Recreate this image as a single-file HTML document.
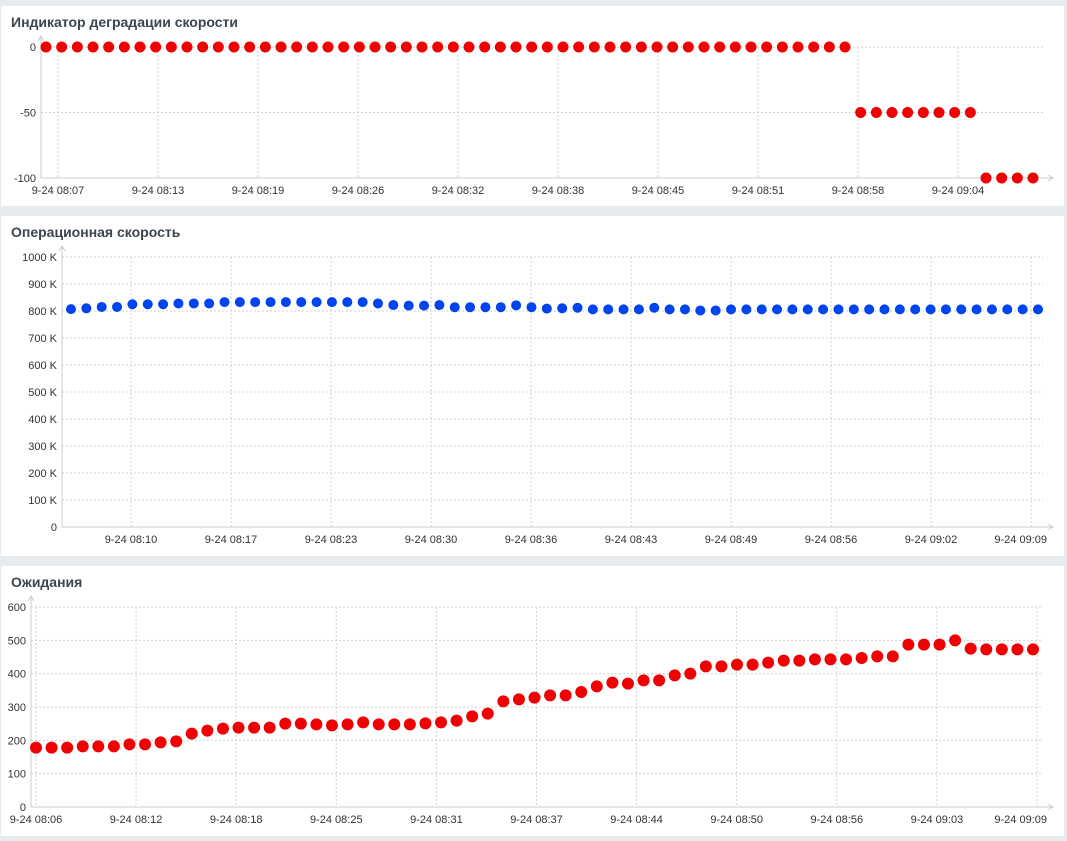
<!DOCTYPE html>
<html><head><meta charset="utf-8"><style>
html,body{margin:0;padding:0;background:#e8ebee;width:1067px;height:841px;overflow:hidden}
svg{display:block;font-family:"Liberation Sans",Arial,sans-serif}
.tick{font-size:11px;fill:#333}
.title{font-size:14px;font-weight:bold;fill:#3c4650}
.grid{stroke:#d0d0d0;stroke-dasharray:2,2;stroke-width:1}
.axis{stroke:#c8ccd0;stroke-width:1;fill:none}
</style></head><body>
<svg id="svg" width="1067" height="841">
<rect x="1" y="6" width="1063" height="200" fill="#fff"/>
<rect x="1" y="216" width="1063" height="340" fill="#fff"/>
<rect x="1" y="566" width="1063" height="270" fill="#fff"/>
<text class="title" x="11" y="27">Индикатор деградации скорости</text>
<text class="title" x="11" y="237">Операционная скорость</text>
<text class="title" x="11" y="587">Ожидания</text>
</svg>
<script>
// Chart 1: degradation indicator
const c1Ticks = ["9-24 08:07","9-24 08:13","9-24 08:19","9-24 08:26","9-24 08:32","9-24 08:38","9-24 08:45","9-24 08:51","9-24 08:58","9-24 09:04"];
const c1YTicks = [0,-50,-100];
const c1Values = [0,0,0,0,0,0,0,0,0,0,0,0,0,0,0,0,0,0,0,0,0,0,0,0,0,0,0,0,0,0,0,0,0,0,0,0,0,0,0,0,0,0,0,0,0,0,0,0,0,0,0,0,-50,-50,-50,-50,-50,-50,-50,-50,-100,-100,-100,-100];
// Chart 2: operational speed (K)
const c2Ticks = ["9-24 08:10","9-24 08:17","9-24 08:23","9-24 08:30","9-24 08:36","9-24 08:43","9-24 08:49","9-24 08:56","9-24 09:02","9-24 09:09"];
const c2YTicks = [0,100,200,300,400,500,600,700,800,900,1000];
const c2Values = [807,810,815,815,825,825,825,828,828,828,833,833,833,833,833,833,833,833,833,833,828,822,820,820,822,814,814,814,814,821,814,809,
810,812,806,806,806,806,812,806,806,802,802,806,806,806,806,806,806,806,806,806,806,806,806,806,806,806,806,806,806,806,806,806];
// Chart 3: waits
const c3Ticks = ["9-24 08:06","9-24 08:12","9-24 08:18","9-24 08:25","9-24 08:31","9-24 08:37","9-24 08:44","9-24 08:50","9-24 08:56","9-24 09:03","9-24 09:09"];
const c3YTicks = [0,100,200,300,400,500,600];
const c3Values = [178,178,178,182,182,182,188,188,194,197,220,229,235,238,238,238,250,250,248,245,248,254,248,248,248,251,254,259,272,280,317,323,
328,335,335,345,362,373,370,380,380,395,400,422,422,427,427,433,439,439,443,443,443,447,452,452,487,487,487,500,475,473,473,473,473];

const svg=document.getElementById('svg');
const NS='http://www.w3.org/2000/svg';
function mk(tag,attrs){const e=document.createElementNS(NS,tag);for(const k in attrs)e.setAttribute(k,attrs[k]);svg.appendChild(e);return e;}

function chart(o){
  const yS=v=>o.y0+(v-o.ymin)/(o.ymax-o.ymin)*(o.y1-o.y0);
  const xS=i=>o.px0+i*(o.px1-o.px0)/(o.values.length-1);
  o.yTicks.forEach(t=>{
    const y=yS(t);
    if(t!==o.ymin){const g=mk('line',{x1:o.ax,x2:o.right,y1:y,y2:y,class:'grid'});
    
    }
    const tx=mk('text',{x:o.ax-5,y:y+4,'text-anchor':'end',class:'tick'});tx.textContent=o.fmt(t);
    
    
  });
  o.xTicks.forEach((t,i)=>{
    const x=o.gx0+i*o.gstep;
    const g=mk('line',{x1:x,x2:x,y1:yS(o.ymax),y2:yS(o.ymin),class:'grid'});
    
    
    let anchor='middle',lx=x;
    if(x+28>o.right+8){anchor='end';lx=o.right+4;}
    const tx=mk('text',{x:lx,y:yS(o.ymin)+16,'text-anchor':anchor,class:'tick'});tx.textContent=t;
    
    
  });
  const yb=yS(o.ymin),yt=yS(o.ymax);
  const ax=mk('path',{d:`M${o.ax},${yt-10} V${yb} H${o.right+10}`,class:'axis'});
  
  
  const a1=mk('path',{d:`M${o.ax-3},${yt-6} L${o.ax},${yt-11} L${o.ax+3},${yt-6}`,class:'axis'});
  
  
  const a2=mk('path',{d:`M${o.right+5},${yb-3} L${o.right+10},${yb} L${o.right+5},${yb+3}`,class:'axis'});
  
  
  o.values.forEach((v,i)=>{
    const c=mk('circle',{cx:xS(i),cy:yS(v),r:o.r,fill:o.color});
    
    
  });
}
chart({values:c1Values,xTicks:c1Ticks,yTicks:c1YTicks,ymin:-100,ymax:0,y0:178,y1:47,ax:41,right:1043,px0:46,px1:1033,gx0:58,gstep:100,r:5.5,color:'#f00000',fmt:t=>String(t)});
chart({values:c2Values,xTicks:c2Ticks,yTicks:c2YTicks,ymin:0,ymax:1000,y0:527,y1:257,ax:62,right:1043,px0:71,px1:1038,gx0:131,gstep:100,r:5,color:'#0044ee',fmt:t=>t===0?'0':t+' K'});
chart({values:c3Values,xTicks:c3Ticks,yTicks:c3YTicks,ymin:0,ymax:600,y0:807,y1:607,ax:31,right:1043,px0:36,px1:1033,gx0:36,gstep:100.1,r:6,color:'#f00000',fmt:t=>String(t)});
</script>
</body></html>
